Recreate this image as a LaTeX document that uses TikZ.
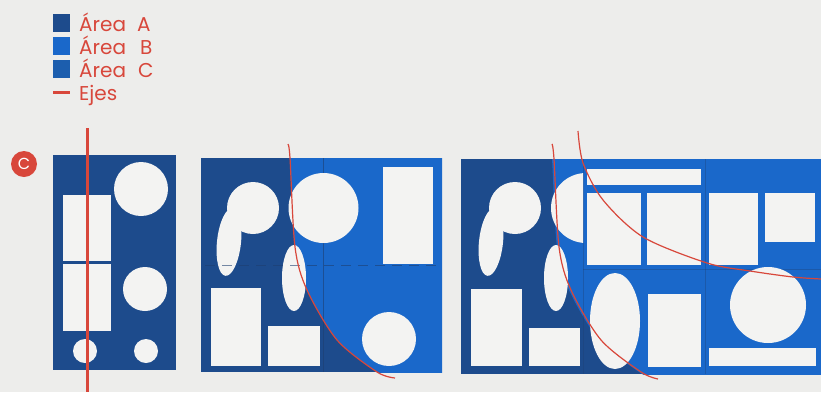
\documentclass[tikz,border=0pt]{standalone}
\usepackage{fontspec}
\setmainfont{Poppins}
\definecolor{paper}{HTML}{EDEDEB}
\definecolor{hole}{HTML}{F3F3F2}
\definecolor{areaA}{HTML}{1D4B8C}
\definecolor{areaB}{HTML}{1A68CA}
\definecolor{areaC}{HTML}{1C5EAE}
\definecolor{axisred}{HTML}{D8473B}
\definecolor{gridline}{HTML}{1E3F70}
\begin{document}
\begin{tikzpicture}[x=1pt,y=-1pt,
  hole/.style={fill=hole},
  axisline/.style={draw=axisred,line width=1.2pt},
  legtext/.style={text=axisred,font=\fontsize{20}{20}\selectfont,anchor=base west,inner sep=0pt},
  gridl/.style={draw=gridline,line width=0.7pt,opacity=0.35}]
\fill[paper] (0,0) rectangle (821,392);
\useasboundingbox (0,0) rectangle (821,392);

% ---------- legend ----------
\fill[areaA] (53,14) rectangle (70,32);
\fill[areaB] (53,37) rectangle (70,55);
\fill[areaC] (53,60) rectangle (70,78);
\fill[axisred] (53,91) rectangle (70,94);
\node[legtext] (la) at (79,31) {Área};
\node[legtext] (laa) at (137,31) {A};
\node[legtext] (lb) at (79,54) {Área};
\node[legtext] (lbb) at (140,54) {B};
\node[legtext] (lc) at (79,77) {Área};
\node[legtext] (lcc) at (138,77) {C};
\node[legtext] (le) at (79,100) {Ejes};

% ---------- label C ----------
\node[circle,fill=axisred,minimum size=26pt,inner sep=0pt,text=white,
  font=\fontsize{16}{16}\selectfont] (lab) at (24,164) {C};

% ---------- panel 1 ----------
\fill[areaA] (53,155) rectangle (176,370);
\fill[hole] (141,189) circle (27);
\fill[hole] (63,195) rectangle (111,261);
\fill[hole] (63,264) rectangle (111,331);
\fill[hole] (145,289) circle (22);
\fill[hole] (85,351) circle (12);
\fill[hole] (146,351) circle (12);
\coordinate (p1t) at (87.5,128);
\coordinate (p1b) at (87.5,392);
\draw[draw=axisred,line width=2.2pt] (p1t) -- (p1b);

% ---------- panel 2 ----------
\fill[areaA] (201,158) rectangle (442,372);
\begin{scope}
  \clip (201,158) rectangle (442,372);
  \fill[areaB] plot[smooth] coordinates {(287,130) (290,158) (295,247) (307,290) (337,340) (377,372) (397,382)} -- (460,382) -- (460,130) -- cycle;
\end{scope}
\draw[gridl,opacity=0.6] (323.5,158) -- (323.5,372);
\fill[hole] (253,208) circle (26);
\fill[hole,rotate around={-6:(229,242)}] (229,242) ellipse (12 and 34);
\fill[hole] (323.5,208) circle (35);
\fill[hole] (383,167) rectangle (433,264);
\fill[hole] (294,278) ellipse (12 and 33);
\fill[hole] (211,288) rectangle (261,366);
\fill[hole] (268,326) rectangle (320,366);
\fill[hole] (389,339) circle (27);
\draw[gridl,opacity=0.6,dash pattern=on 10pt off 7pt] (205,265.5) -- (442,265.5);
\draw[axisline] plot[smooth] coordinates {(288,144) (290,158) (295,247) (307,290) (337,340) (377,372) (395,378)};

% ---------- panel 3 ----------
\fill[areaA] (461,159) rectangle (821,374);
\begin{scope}
  \clip (461,159) rectangle (821,374);
  \fill[areaB] plot[smooth] coordinates {(549,130) (552,159) (557,247) (569,290) (599,340) (639,372) (659,382)} -- (830,382) -- (830,130) -- cycle;
  \draw[gridl] (583.5,159) -- (583.5,374);
  \draw[gridl] (705.5,159) -- (705.5,374);
  \draw[gridl] (583,269.5) -- (821,269.5);
  \fill[hole] (515,208) circle (26);
  \fill[hole,rotate around={-6:(491,242)}] (491,242) ellipse (12 and 34);
  \begin{scope}
    \clip (540,150) rectangle (583,260);
    \fill[hole] (586,208) circle (35);
  \end{scope}
  \fill[hole] (587,169) rectangle (701,185);
  \fill[hole] (587,193) rectangle (641,265);
  \fill[hole] (647,193) rectangle (701,265);
  \fill[hole] (709,193) rectangle (758,265);
  \fill[hole] (765,193) rectangle (815,242);
  \fill[hole] (556,278) ellipse (12 and 33);
  \fill[hole] (615,321) ellipse (25 and 48);
  \fill[hole] (648,294) rectangle (701,367);
  \fill[hole] (768,305) circle (38);
  \fill[hole] (709,348) rectangle (816,366);
  \fill[hole] (471,289) rectangle (522,366);
  \fill[hole] (529,328) rectangle (580,366);
\end{scope}
\draw[axisline] plot[smooth] coordinates {(552,144) (554,159) (559,247) (571,290) (601,340) (641,372) (658,379)};
\draw[axisline] plot[smooth] coordinates {(578,131) (583,163) (603,200) (643,237) (707,263) (750,271) (793,277) (821,279)};
\end{tikzpicture}
\end{document}
